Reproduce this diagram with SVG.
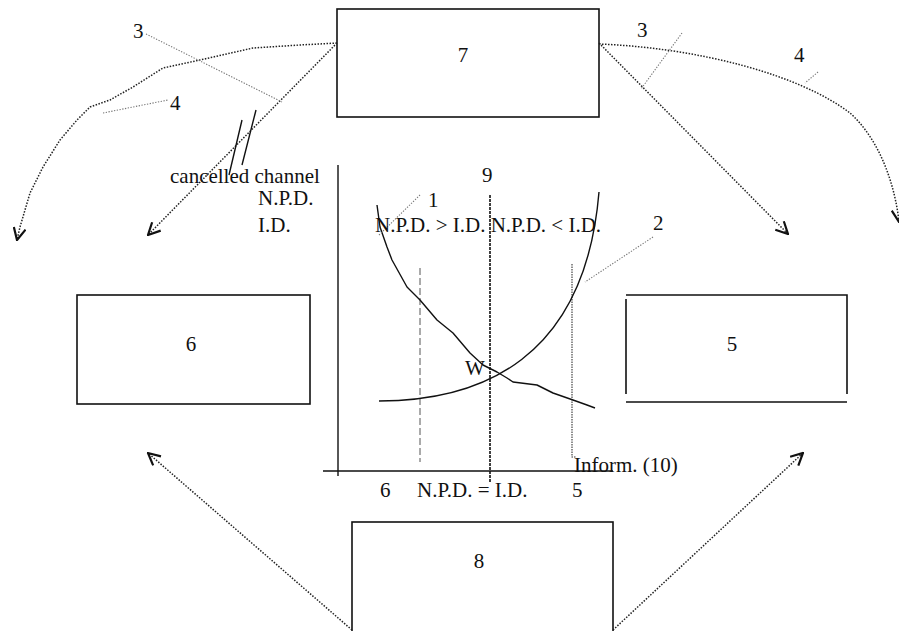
<svg xmlns="http://www.w3.org/2000/svg" width="899" height="631" viewBox="0 0 899 631">
<style>
text{font-family:"Liberation Serif","Times New Roman",serif;font-size:21px;fill:#111}
.box{fill:none;stroke:#111;stroke-width:1.6}
.dot{fill:none;stroke:#222;stroke-width:1.5;stroke-dasharray:1.5 1.5}
.lead{fill:none;stroke:#777;stroke-width:1.1;stroke-dasharray:1.3 1.5}
.solid{fill:none;stroke:#111;stroke-width:1.4}
.mid{text-anchor:middle}
</style>
<defs>
<marker id="arr" viewBox="0 0 14 14" refX="13" refY="7" markerWidth="14" markerHeight="14" markerUnits="userSpaceOnUse" orient="auto">
<path d="M1,1 L13,7 L1,13" fill="none" stroke="#111" stroke-width="2.2"/>
</marker>
</defs>
<rect width="899" height="631" fill="#fff"/>

<g id="node7"><rect class="box" x="337" y="9" width="262" height="108"/><text class="mid" x="463" y="62">7</text></g>
<g id="node6"><rect class="box" x="77" y="295" width="233" height="109"/><text class="mid" x="191" y="351">6</text></g>
<g id="node5"><path class="box" d="M626,295 H847 V394 M626,299 V394 M626,402 H847"/><text class="mid" x="732" y="351">5</text></g>
<g id="node8"><rect class="box" x="352" y="522" width="261" height="130"/><text class="mid" x="479" y="568">8</text></g>

<g id="graph">
<path class="solid" d="M338,165 V476 M323,471 H613"/>
<path fill="none" stroke="#111" stroke-width="1.6" stroke-dasharray="3 1" d="M490,195 V483"/>
<path fill="none" stroke="#555" stroke-width="1" stroke-dasharray="7 3" d="M420,268 V462"/>
<path fill="none" stroke="#333" stroke-width="1.1" stroke-dasharray="1.5 1" d="M572,264 V457 H576"/>
<path class="solid" d="M379,401 C480,401 585,360 599,192"/>
<polyline class="solid" stroke-linejoin="round" points="377,205 380,227 387,247 392,260 407,287 420,300 437,320 453,333 470,353 483,365 497,372 507,378 513,382 537,385 553,393 573,400 587,405 595,408"/>
<path class="lead" d="M420,195 L379,235"/>
<path class="lead" d="M653,237 L585,282"/>
<text x="482" y="182">9</text>
<text x="428" y="207">1</text>
<text x="375" y="232">N.P.D. &gt; I.D. N.P.D. &lt; I.D.</text>
<text x="465" y="375">W</text>
<text x="653" y="230">2</text>
<text x="574" y="472">Inform. (10)</text>
<text x="380" y="497">6</text>
<text x="417" y="497">N.P.D. = I.D.</text>
<text x="572" y="497">5</text>
</g>

<g id="connectors">
<path class="dot" d="M337,43 L148,235" marker-end="url(#arr)"/>
<path class="dot" d="M337,43 L300,45 L253,48 L200,60 L163,68 L133,87 L110,100 L90,107 L77,120 L60,140 L43,167 L30,193 L20,227 L17,240" stroke-linejoin="round" marker-end="url(#arr)"/>
<path class="dot" d="M599,43 L788,234" marker-end="url(#arr)"/>
<path class="dot" d="M599,44 C700,48 800,75 850,113 C880,140 895,185 899,222" marker-end="url(#arr)"/>
<path class="dot" d="M352,630 L148,453" marker-end="url(#arr)"/>
<path class="dot" d="M613,630 L803,453" marker-end="url(#arr)"/>
<path class="lead" d="M146,34 L282,102"/>
<path class="lead" d="M103,113 L168,100"/>
<path class="lead" d="M682,33 L641,89"/>
<path class="lead" d="M818,72 L805,83"/>
<path class="solid" d="M242,120 L229,175 M256,110 L242,165"/>
<text x="133" y="38">3</text>
<text x="170" y="110">4</text>
<text x="637" y="37">3</text>
<text x="794" y="62">4</text>
<text x="170" y="183">cancelled channel</text>
<text x="258" y="205">N.P.D.</text>
<text x="258" y="232">I.D.</text>
</g>
</svg>
